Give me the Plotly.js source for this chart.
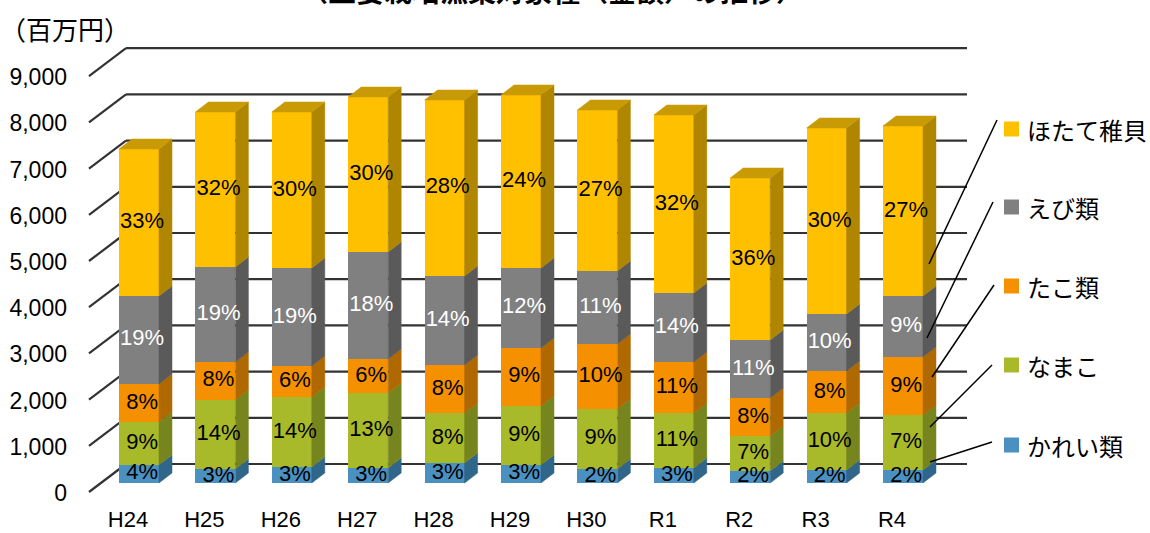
<!DOCTYPE html>
<html>
<head>
<meta charset="utf-8">
<script src="https://cdn.plot.ly/plotly-3.0.1.min.js"></script>
<style>
html,body{margin:0;padding:0;background:#fff;}
#chart{width:1150px;height:533px;}
</style>
</head>
<body>
<div id="chart"></div>
<script>
// ---------- data ----------
const categories = ['H24','H25','H26','H27','H28','H29','H30','R1','R2','R3','R4'];
const seriesNames = ['かれい類','なまこ','たこ類','えび類','ほたて稚貝'];
const kareiVals  = [390, 303, 346, 325, 433, 390, 303, 325, 260, 281, 281];
const namakoVals = [930, 1494, 1515, 1623, 1082, 1277, 1299, 1190, 757, 1234, 1191];
const takoVals   = [823, 822, 671, 736, 1039, 1255, 1407, 1104, 823, 909, 1255];
const ebiVals    = [1905, 2056, 2122, 2316, 1927, 1732, 1580, 1494, 1255, 1234, 1321];
const hotateVals = [3181, 3355, 3376, 3355, 3809, 3744, 3485, 3852, 3507, 4026, 3679];
const kareiPct  = ['4%','3%','3%','3%','3%','3%','2%','3%','2%','2%','2%'];
const namakoPct = ['9%','14%','14%','13%','8%','9%','9%','11%','7%','10%','7%'];
const takoPct   = ['8%','8%','6%','6%','8%','9%','10%','11%','8%','8%','9%'];
const ebiPct    = ['19%','19%','19%','18%','14%','12%','11%','14%','11%','10%','9%'];
const hotatePct = ['33%','32%','30%','30%','28%','24%','27%','32%','36%','30%','27%'];
const yTickVals = [0,1000,2000,3000,4000,5000,6000,7000,8000,9000];
const yTickText = ['0','1,000','2,000','3,000','4,000','5,000','6,000','7,000','8,000','9,000'];

// ---------- styling / geometry ----------
const seriesVals = [kareiVals, namakoVals, takoVals, ebiVals, hotateVals];
const seriesPct  = [kareiPct, namakoPct, takoPct, ebiPct, hotatePct];
const frontCol = ['#4A90C0','#A8B92A','#F59000','#808080','#FFC000'];
const sideCol  = ['#2F6689','#77851E','#B06800','#5A5A5A','#B08600'];
const topCol   = '#C89A05';
const textCol  = ['#000','#000','#000','#fff','#000'];

const W=1150, H=533, ML=80, MR=150, MT=30, MB=33;
const PW=W-ML-MR, PH=H-MT-MB;
const X0PX=139, XSTEP=76.4;     // pixel of first category centre, spacing
const Y0PX=483, YSCALE=0.0462;  // pixel of value 0 on bar front, px per unit
const BARW=40/XSTEP;
const dxU=13/XSTEP, dyU=10/YSCALE;   // bar depth offset
const px2x = px => (px - X0PX)/XSTEP;
const py2y = py => (Y0PX - py)/YSCALE;
const px2paper = px => (px-ML)/PW;
const py2paper = py => (MT+PH-py)/PH;

const xs = categories.map((c,i)=>i);
const traces = [];
const cum = categories.map(()=>0);
const bottoms = [];
seriesVals.forEach((vals,s)=>{
  bottoms.push(cum.slice());
  traces.push({type:'bar', x:xs, y:vals, width:BARW, name:seriesNames[s],
    marker:{color:frontCol[s], line:{width:0}}, showlegend:false, hoverinfo:'skip'});
  vals.forEach((v,i)=>{cum[i]+=v;});
});
// side faces
seriesVals.forEach((vals,s)=>{
  const sx=[], sy=[];
  vals.forEach((v,i)=>{
    const b=bottoms[s][i], t=b+v, xr=i+BARW/2;
    sx.push(xr, xr+dxU, xr+dxU, xr, xr, null);
    sy.push(b, b+dyU, t+dyU, t, b, null);
  });
  traces.push({type:'scatter', x:sx, y:sy, mode:'lines', fill:'toself',
    fillcolor:sideCol[s], line:{color:sideCol[s], width:0.5}, showlegend:false, hoverinfo:'skip'});
});
// top faces
{
  const tx=[], ty=[];
  cum.forEach((T,i)=>{
    const xl=i-BARW/2, xr=i+BARW/2;
    tx.push(xl, xr, xr+dxU, xl+dxU, xl, null);
    ty.push(T, T, T+dyU, T+dyU, T, null);
  });
  traces.push({type:'scatter', x:tx, y:ty, mode:'lines', fill:'toself',
    fillcolor:topCol, line:{color:topCol, width:0.5}, showlegend:false, hoverinfo:'skip'});
}
// labels
seriesVals.forEach((vals,s)=>{
  traces.push({type:'scatter', mode:'text', x:xs.map(i=>i+0.04),
    y:vals.map((v,i)=>bottoms[s][i]+v/2), text:seriesPct[s],
    textfont:{family:'Liberation Sans, Arial, sans-serif', size:22, color:textCol[s]},
    textposition:'middle center', showlegend:false, hoverinfo:'skip', cliponaxis:false});
});

// gridlines on back wall + diagonals
const shapes=[];
const BACK_L=126, BACK_R=967, BACK0=464, DEPX=37, DEPY=28;
yTickVals.forEach(v=>{
  const yb = BACK0 - v*YSCALE;
  shapes.push({type:'line', layer:'below', xref:'x', yref:'y',
    x0:px2x(BACK_L), x1:px2x(BACK_R), y0:py2y(yb), y1:py2y(yb),
    line:{color:'#333333', width:2.2}});
  shapes.push({type:'line', layer:'below', xref:'x', yref:'y',
    x0:px2x(BACK_L-DEPX), x1:px2x(BACK_L), y0:py2y(yb+DEPY), y1:py2y(yb),
    line:{color:'#333333', width:2.2}});
});

// custom legend with leader lines
const legendY = [445, 365, 286, 207, 129];
const leaderEnd = [[930,462],[930,427],[932,377],[927,338],[929,264]];
const leaderStart = [[992,442],[992,365],[994,285],[993,202],[997,120]];
const annotations=[];
seriesNames.forEach((n,s)=>{
  shapes.push({type:'rect', xref:'paper', yref:'paper',
    x0:px2paper(1004), x1:px2paper(1019), y0:py2paper(legendY[s]+7.5), y1:py2paper(legendY[s]-7.5),
    fillcolor:frontCol[s], line:{width:0}});
  shapes.push({type:'line', xref:'paper', yref:'paper',
    x0:px2paper(leaderStart[s][0]), y0:py2paper(leaderStart[s][1]),
    x1:px2paper(leaderEnd[s][0]), y1:py2paper(leaderEnd[s][1]),
    line:{color:'#000', width:1.5}});
  annotations.push({xref:'paper', yref:'paper', x:px2paper(1025), y:py2paper(legendY[s]),
    xanchor:'left', yanchor:'middle', showarrow:false, text:n,
    font:{family:'Noto Sans CJK JP, sans-serif', size:24, color:'#000'}});
});
annotations.push({xref:'paper', yref:'paper', x:px2paper(-2), y:py2paper(29),
  xanchor:'left', yanchor:'middle', showarrow:false, text:'（百万円）',
  font:{family:'Noto Sans CJK JP, sans-serif', size:26, color:'#000'}});
annotations.push({xref:'paper', yref:'paper', x:px2paper(552), y:py2paper(12),
  xanchor:'center', yanchor:'bottom', showarrow:false, text:'<b>（主要栽培漁業対象種（金額）の推移）</b>',
  font:{family:'Noto Sans CJK JP, sans-serif', size:28, color:'#000'}});

const layout = {
  width:W, height:H, margin:{l:ML, r:MR, t:MT, b:MB, pad:0},
  paper_bgcolor:'#fff', plot_bgcolor:'rgba(0,0,0,0)',
  barmode:'stack', showlegend:false,
  xaxis:{range:[px2x(ML), px2x(ML+PW)], tickvals:xs, ticktext:categories,
    showgrid:false, zeroline:false, showline:false, ticks:'',
    ticklabelshift:-11, ticklabelstandoff:4,
    tickfont:{family:'Liberation Sans, Arial, sans-serif', size:22, color:'#000'}},
  yaxis:{range:[py2y(MT+PH), py2y(MT)], tickvals:yTickVals, ticktext:yTickText,
    showgrid:false, zeroline:false, showline:false, ticks:'',
    ticklabelshift:10, ticklabelstandoff:12,
    tickfont:{family:'Liberation Sans, Arial, sans-serif', size:23, color:'#000'}},
  shapes:shapes, annotations:annotations
};
Plotly.newPlot('chart', traces, layout, {staticPlot:true, displayModeBar:false});
</script>
</body>
</html>
